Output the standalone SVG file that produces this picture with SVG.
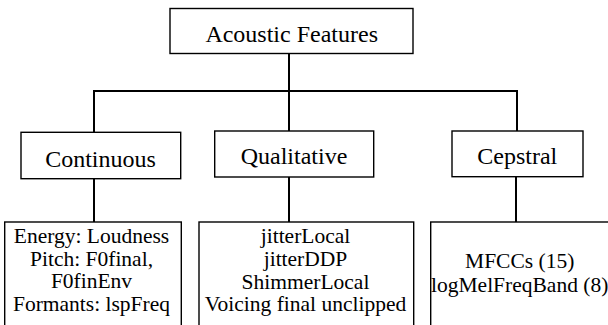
<svg xmlns="http://www.w3.org/2000/svg" width="608" height="325" viewBox="0 0 608 325">
<style>
rect{fill:#fff;stroke:#000;stroke-width:1.4}
.c line{stroke:#000;stroke-width:2}
text{font-family:'Liberation Serif','Times New Roman',serif;fill:#000;text-anchor:middle}
.h{font-size:24px}
.d{font-size:21.5px}
</style>
<rect x="0" y="0" width="608" height="325" style="stroke:none"/>
<g class="c" id="connectors">
<line x1="289" y1="53" x2="289" y2="91"/>
<line x1="93" y1="91" x2="518" y2="91"/>
<line x1="94" y1="91" x2="94" y2="132"/>
<line x1="289" y1="91" x2="289" y2="131"/>
<line x1="517" y1="91" x2="517" y2="131"/>
<line x1="94" y1="179" x2="94" y2="222"/>
<line x1="289" y1="177" x2="289" y2="222"/>
<line x1="516" y1="177" x2="516" y2="222"/>
</g>
<g id="acoustic">
<rect x="170" y="8.5" width="243" height="45"/>
<text class="h" x="291.7" y="41.5">Acoustic Features</text>
</g>
<g id="continuous">
<rect x="21" y="132.3" width="159.7" height="46.4"/>
<text class="h" x="100.5" y="166.5">Continuous</text>
</g>
<g id="qualitative">
<rect x="214.7" y="131" width="159" height="46"/>
<text class="h" x="294" y="163.5">Qualitative</text>
</g>
<g id="cepstral">
<rect x="452" y="131" width="131" height="45.7"/>
<text class="h" x="517.3" y="163.5">Cepstral</text>
</g>
<g id="continuous-detail">
<rect x="4.7" y="222" width="176.6" height="110"/>
<text class="d" x="91.5" y="243">Energy: Loudness</text>
<text class="d" x="91.5" y="265.5">Pitch: F0final,</text>
<text class="d" x="91.5" y="288">F0finEnv</text>
<text class="d" x="91.5" y="310.5">Formants: lspFreq</text>
</g>
<g id="qualitative-detail">
<rect x="199" y="222" width="214.7" height="110"/>
<text class="d" x="305.5" y="243">jitterLocal</text>
<text class="d" x="305.5" y="265.5">jitterDDP</text>
<text class="d" x="305.5" y="288.5">ShimmerLocal</text>
<text class="d" x="305.5" y="311">Voicing final unclipped</text>
</g>
<g id="cepstral-detail">
<rect x="430.7" y="222" width="180" height="110"/>
<text class="d" x="519.7" y="268">MFCCs (15)</text>
<text class="d" x="519.7" y="291.5">logMelFreqBand (8)</text>
</g>
</svg>
